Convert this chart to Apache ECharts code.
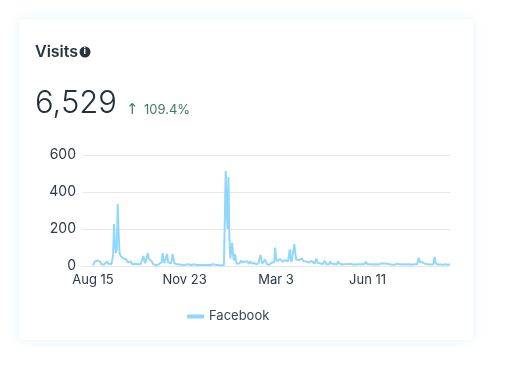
<!DOCTYPE html>
<html><head><meta charset="utf-8">
<style>html,body{margin:0;padding:0;background:#fff}#c{width:512px;height:379px}</style>
<script src="https://cdn.jsdelivr.net/npm/echarts@6/dist/echarts.min.js"></script>
</head><body><div id="c"></div>
<script>
const seriesName = 'Facebook';
const titleText = 'Visits';
const totalText = '6,529';
const changeText = '109.4%';
const tickLabels = ['Aug 15', 'Nov 23', 'Mar 3', 'Jun 11'];
const yTicks = [0, 200, 400, 600];
const blankDaysBefore = 12;
const days0 = [3,12,25,28,29,30,27,30,22,10,8,12,7,10,14,24,28,12,6,8,10,30,60,227,120,70,90,335,180,70,55,60,45,40,35,45,38,30,20,25];
const days1 = [18,25,15,10,8,10,12,9,8,10,8,9,10,7,20,54,30,15,10,20,70,40,30,50,25,15,10,7,4,3,3,6,10,12,14,20,70,35,15,25,12,65,20,12,10,14,30,65,40,15];
const days2 = [8,10,9,7,6,8,10,6,5,8,12,7,5,6,9,14,8,5,7,12,9,5,4,6,8,6,5,7,10,6,4,5,6,12,7,5,4,6,5,4,5,9,6,4,7,10,6,5,8,6,4,5,4,5,6,515,300,200,480,150];
const days3 = [40,30,125,60,30,65,35,12,10,8,15,20,30,18,14,22,25,15,20,24,12,18,25,14,10,12,16,14,12,9,15,20,11,60,30,14,12,16,35,22,10,6,5,7,12,18,14,16,20,100,45,25,30,35,38];
const days4 = [32,30,24,34,28,32,28,30,25,24,90,35,24,28,30,118,70,35,30,25,32,38,42,40,32,26,22,20,25,30,22,18,16,14,28,24,18,12,14,40,18,12,10,15,22,12,10,14,28,20,10,8,12,10,25];
const days5 = [14,10,8,12,22,12,8,10,25,14,10,9,8,12,10,9,8,14,10,8,9,12,20,10,8,10,9,8,18,12,9,10,12,9,8,10,9,11,22,12,9,8,9,10,12,9,8,7,9,10];
const days6 = [10,9,8,10,12,14,18,22,15,12,16,12,10,11,10,9,8,7,8,9,8,9,10,12,9,10,8,9,7,10,12,9,8,7,8,10,9,8,7,9,8,10,9,8,9,7,45,22,16,30,20,14,10,12,9,8,10,12,14,8];
const days7 = [7,9,10,50,20,10,8,9,7,8,9,8,7,8,10,9,8,9,7,8,9];
const visits = [].concat(days0, days1, days2, days3, days4, days5, days6, days7);

const fmt = d => d.toLocaleDateString('en-US', {month: 'short', day: 'numeric'});
const categories = [];
for (let i = 0; i < blankDaysBefore; i++) categories.push(' ' + i);
const seriesData = new Array(blankDaysBefore).fill(null).concat(visits);
visits.forEach((_, i) => categories.push(fmt(new Date(2021, 7, 15 + i))));
const labelled = new Set();
for (let i = 0; i < tickLabels.length; i++) labelled.add(blankDaysBefore + i * 100);

const font = 'Inter, "Noto Sans", sans-serif';
const chart = echarts.init(document.getElementById('c'), null, {renderer: 'canvas'});
chart.setOption({
  animation: false,
  backgroundColor: '#fff',
  textStyle: {fontFamily: font},
  grid: {left: 82, right: 62, top: 155, height: 111, containLabel: false},
  legend: {
    show: true, top: 305, left: 182, itemWidth: 17, itemHeight: 4, itemGap: 7,
    icon: 'roundRect', data: [seriesName],
    textStyle: {color: '#3a4650', fontSize: 13, fontFamily: font}
  },
  xAxis: {
    type: 'category', boundaryGap: false, data: categories,
    axisLine: {show: false}, axisTick: {show: false}, splitLine: {show: false},
    axisLabel: {
      color: '#2f3a44', fontSize: 13, margin: 8, fontFamily: font,
      interval: idx => labelled.has(idx),
      formatter: (v, idx) => tickLabels[(idx - blankDaysBefore) / 100] || ''
    }
  },
  yAxis: {
    type: 'value', min: 0, max: 600, interval: 200,
    axisLine: {show: false}, axisTick: {show: false},
    splitLine: {lineStyle: {color: '#e6e8ea', width: 1}},
    axisLabel: {color: '#2f3a44', fontSize: 14, margin: 6, padding: [3, 0, 0, 0], fontFamily: font}
  },
  series: [{
    name: seriesName, type: 'line', data: seriesData, showSymbol: false, connectNulls: false,
    lineStyle: {color: '#8fd8fb', width: 2}, itemStyle: {color: '#8fd8fb'}, z: 3
  }],
  graphic: [
    {type: 'rect', z: -10, shape: {x: 19, y: 19, width: 454, height: 321, r: 4},
     style: {fill: '#fff', shadowBlur: 12, shadowColor: 'rgba(190,225,250,0.4)'}},
    {type: 'text', x: 35, y: 44, style: {text: titleText, font: '600 16px ' + font, fill: '#27333d'}},
    {type: 'circle', shape: {cx: 85, cy: 52, r: 5.5}, style: {fill: '#27333d'}},
    {type: 'text', x: 83.6, y: 47, style: {text: 'i', font: '700 9px ' + font, fill: '#fff'}},
    {type: 'text', x: 35, y: 88, style: {text: totalText, font: '300 31px ' + font, fill: '#25323c'}},
    {type: 'text', x: 126, y: 103, style: {text: '↑', font: '400 15px "DejaVu Sans", sans-serif', fill: '#3f7a68'}},
    {type: 'text', x: 144, y: 104, style: {text: changeText, font: '400 13px ' + font, fill: '#3f7a68'}}
  ]
});
</script></body></html>
